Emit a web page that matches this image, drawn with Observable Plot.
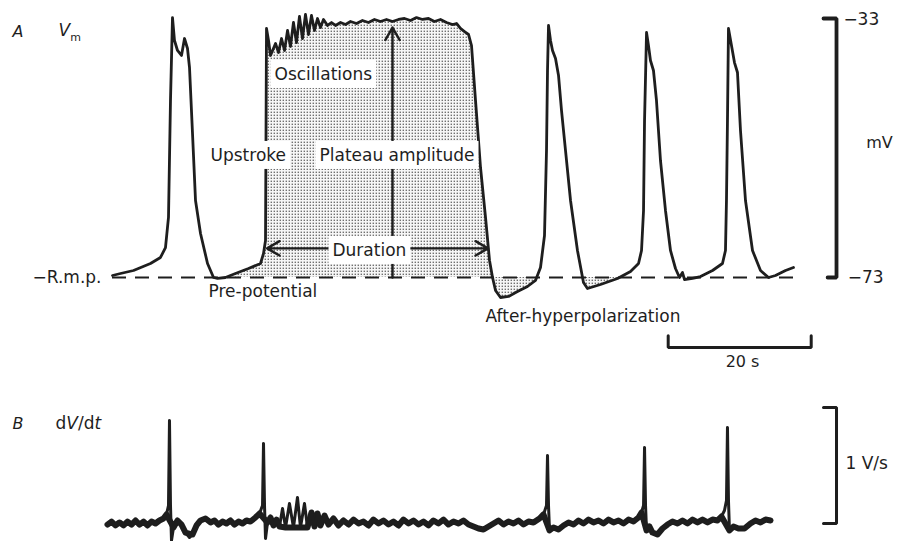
<!DOCTYPE html>
<html><head><meta charset="utf-8">
<script src="https://cdn.jsdelivr.net/npm/d3@7"></script>
<script src="https://cdn.jsdelivr.net/npm/@observablehq/plot@0.6"></script>
<style>
body{margin:0;background:#fff;}
#chart{width:906px;height:541px;overflow:hidden;}
#chart svg{display:block;}
</style></head><body><div id="chart"></div>
<script>
// ---------- Panel A: membrane potential (time in s, Vm in mV) ----------
const timeA = [
0.28,1.40,3.22,5.59,6.99,7.69,8.11,8.39,8.67,8.95,
9.37,9.93,10.35,10.77,11.05,11.47,11.89,12.59,13.57,14.41,
14.97,16.08,17.48,19.30,20.98,21.40,21.68,21.82,22.10,22.38,
23.08,23.50,23.92,24.34,24.76,25.17,25.59,26.01,26.43,26.85,
27.27,27.69,28.11,28.53,28.95,29.37,29.79,30.35,30.91,31.47,
32.17,32.87,33.57,34.41,35.24,36.08,36.92,37.76,38.60,39.44,
40.28,41.12,41.96,42.80,43.64,44.48,45.31,46.15,46.99,47.83,
48.39,48.95,49.51,50.07,50.49,51.05,51.75,52.45,53.01,53.43,
53.85,54.55,55.66,56.92,58.32,59.44,60.14,60.70,60.98,61.12,
61.26,61.54,61.82,62.24,62.66,63.08,63.64,64.34,65.31,66.15,
66.71,68.53,70.91,72.73,73.85,74.27,74.55,74.69,74.97,75.24,
75.52,75.94,76.36,76.92,77.62,78.32,79.02,79.58,80.00,80.28,
81.40,82.52,84.20,85.59,86.01,86.15,86.29,86.43,86.85,87.27,
87.69,88.11,88.81,89.79,90.91,92.03,93.01,94.41,95.52];
const vmA = [
-72.69,-72.38,-71.92,-70.84,-69.91,-68.37,-63.73,-45.66,-32.85,-36.40,
-37.94,-38.71,-36.09,-37.63,-40.57,-50.76,-61.11,-66.20,-70.84,-73.00,
-73.15,-73.00,-72.38,-71.61,-70.84,-69.29,-67.29,-34.54,-36.40,-38.71,
-36.86,-38.25,-36.09,-37.94,-34.85,-37.32,-33.62,-36.71,-32.69,-36.09,
-32.38,-35.47,-32.53,-34.85,-33.00,-34.39,-33.15,-34.08,-33.62,-34.08,
-33.62,-33.93,-33.46,-33.77,-33.31,-33.62,-33.15,-33.46,-33.15,-33.46,
-33.15,-33.00,-33.31,-32.85,-33.15,-33.00,-33.46,-33.15,-33.62,-33.93,
-33.77,-34.54,-35.01,-35.47,-37.17,-45.66,-56.01,-63.73,-70.37,-73.00,
-75.01,-76.09,-75.93,-75.16,-74.39,-73.46,-71.46,-66.51,-53.39,-41.03,
-34.08,-36.40,-37.94,-39.18,-41.80,-47.21,-53.39,-61.11,-68.83,-73.77,
-74.70,-74.08,-73.15,-72.07,-70.84,-68.83,-62.65,-48.75,-35.16,-37.17,
-39.49,-41.03,-45.66,-54.93,-62.65,-68.83,-71.61,-73.00,-72.23,-73.31,
-73.15,-72.85,-71.92,-70.84,-68.83,-61.11,-48.75,-34.54,-37.17,-39.80,
-41.34,-50.30,-61.11,-68.83,-71.92,-73.00,-72.69,-71.92,-71.46];
const restingPotential = -73;           // R.m.p. (mV)
const rmpSpan = [0.28, 96.5];           // extent of dashed R.m.p. line (s)
const shadedPlateau = [17.4, 59.5];     // stippled: pre-potential, plateau, AHP
const shadedAHP2 = [66.1, 71.0];        // stippled second after-hyperpolarization

// ---------- Panel B: dV/dt (V/s) ----------
const timeB = [
-0.42,0.14,0.70,1.26,1.82,2.38,2.94,3.50,4.06,4.62,
5.17,5.73,6.29,6.85,7.41,7.83,8.11,8.25,8.39,8.53,
8.81,9.37,9.93,10.49,11.05,11.47,12.03,12.59,13.29,13.99,
14.55,15.10,15.66,16.22,16.78,17.34,17.90,18.46,19.02,19.58,
20.28,20.84,21.26,21.40,21.54,21.68,21.96,22.38,22.80,23.22,
23.64,24.06,24.48,25.03,25.59,26.15,26.57,27.13,27.55,28.11,
28.53,28.95,29.37,29.93,30.49,31.19,31.89,32.59,33.29,33.99,
34.69,35.38,36.08,36.78,37.48,38.18,38.88,39.58,40.28,40.98,
41.68,42.38,43.08,43.78,44.48,45.17,45.87,46.57,47.27,47.97,
48.67,49.37,50.07,50.77,51.47,52.17,52.87,53.57,54.27,54.97,
55.66,56.36,57.06,57.76,58.46,59.16,60.00,60.56,60.98,61.12,
61.26,61.40,61.96,62.66,63.36,64.06,64.76,65.45,66.15,66.85,
67.55,68.25,68.95,69.65,70.35,71.05,71.75,72.45,73.15,73.85,
74.27,74.55,74.69,74.83,74.97,75.38,75.80,76.50,77.20,77.90,
78.60,79.30,80.00,80.70,81.40,82.10,82.80,83.50,84.20,84.90,
85.45,85.87,86.15,86.29,86.43,86.57,87.13,87.83,88.67,89.51,
90.21,90.91,91.61,92.31];
const dvdtB = [
-0.009,0.017,-0.017,0.009,-0.017,0.017,-0.009,0.026,-0.009,0.017,
-0.017,0.017,0,0.026,0.043,0.078,0.155,0.888,0.155,-0.147,
-0.034,0.026,-0.009,-0.078,-0.121,-0.095,-0.017,0.026,0.043,0.009,
0.026,-0.009,0.017,0,0.026,-0.009,0.017,0,0.026,0.017,
0.052,0.086,0.155,0.690,0.155,-0.129,0.009,0.052,-0.017,0.034,
-0.026,0.129,-0.034,0.172,-0.034,0.224,-0.034,0.172,-0.034,0.095,
-0.026,0.086,-0.017,0.069,-0.009,0.043,-0.017,0.026,-0.009,0.034,
0,0.017,-0.017,0.034,0,0.026,-0.009,0.017,-0.017,0.034,
0,0.026,-0.009,0.017,-0.017,0.026,0,0.034,-0.009,0.017,
0,0.026,-0.009,-0.026,-0.043,-0.052,-0.026,0,0.026,-0.009,
0.017,0,0.026,-0.009,0.017,0.009,0.043,0.078,0.155,0.586,
0.155,-0.060,-0.034,-0.052,-0.017,0.009,-0.009,0.026,0,0.034,
0.009,0.026,0,0.034,0.009,0.026,0,0.034,0.017,0.052,
0.095,0.155,0.655,0.155,-0.060,-0.026,-0.078,-0.095,-0.043,-0.009,
0.017,0,0.026,0,0.034,0.009,0.034,0.009,0.034,0.026,
0.060,0.112,0.198,0.828,0.198,-0.060,-0.026,-0.043,-0.043,0,
0.026,0.009,0.034,0.026];

// ---------- Annotations (data units) ----------
const boxedText = ["Oscillations","Upstroke","Plateau amplitude","Duration"];
const boxedT    = [22.94, 13.99, 29.23, 31.05];
const boxedV    = [-41.65, -54.16, -54.16, -68.83];
const plainText = ["Pre-potential","After-hyperpolarization"];
const plainT    = [13.71, 52.45];
const plainV    = [-75.16, -79.0];
const amplitudeArrow = {t: 39.44, from: -73, to: -34.4};
const durationArrow  = {v: -68.5, from: 21.9, mid: 37.0, to: 52.8};
// scale bars: 40 mV (−73 to −33), 20 s, 1 V/s
const mVBarT = [99.72, 101.54, 101.54, 100.3], mVBarV = [-33, -33, -73, -73];
const sBarT  = [78, 78, 98, 98],               sBarV  = [-82.0, -83.81, -83.81, -82.0];
const vsBarT = [99.72, 101.54, 101.54, 99.72], vsBarV = [1, 1, 0, 0];

const ink = "#1e1e1e";
const font = "DejaVu Sans";
const xOpts = {type: "linear", domain: [0, 100], range: [110, 825], axis: null};

const traceA = timeA.map((t, i) => ({t, v: vmA[i]}));
const traceB = timeB.map((t, i) => ({t, v: dvdtB[i]}));
const noiseB = traceB.filter(d => Math.abs(d.v) < 0.1);
const fill1 = traceA.filter(d => d.t >= shadedPlateau[0] && d.t <= shadedPlateau[1]);
const fill2 = traceA.filter(d => d.t >= shadedAHP2[0] && d.t <= shadedAHP2[1]);
const boxed = boxedText.map((s, i) => ({s, t: boxedT[i], v: boxedV[i]}));
const plain = plainText.map((s, i) => ({s, t: plainT[i], v: plainV[i]}));
const mVBar = mVBarT.map((t, i) => ({t, v: mVBarV[i]}));
const sBar = sBarT.map((t, i) => ({t, v: sBarV[i]}));
const vsBar = vsBarT.map((t, i) => ({t, v: vsBarV[i]}));

const plotA = Plot.plot({
  width: 906, height: 380, margin: 0,
  x: xOpts,
  y: {type: "linear", domain: [-73, -33], range: [277, 18], axis: null},
  style: {fontFamily: font, background: "white", overflow: "visible"},
  marks: [
    Plot.areaY(fill1, {x: "t", y1: () => restingPotential, y2: "v", fill: "url(#stipple)", curve: "linear"}),
    Plot.areaY(fill2, {x: "t", y1: () => restingPotential, y2: "v", fill: "url(#stipple)", curve: "linear"}),
    Plot.ruleY([restingPotential], {x1: rmpSpan[0], x2: rmpSpan[1], stroke: ink, strokeWidth: 2, strokeDasharray: "14,9"}),
    Plot.arrow([amplitudeArrow], {x1: "t", x2: "t", y1: "from", y2: "to", stroke: ink, strokeWidth: 2.4, headLength: 9}),
    Plot.arrow([durationArrow], {x1: "mid", x2: "from", y1: "v", y2: "v", stroke: ink, strokeWidth: 2.4, headLength: 9}),
    Plot.arrow([durationArrow], {x1: "mid", x2: "to", y1: "v", y2: "v", stroke: ink, strokeWidth: 2.4, headLength: 9}),
    Plot.line(traceA, {x: "t", y: "v", stroke: ink, strokeWidth: 2.8, strokeLinejoin: "round", curve: "linear"}),
    Plot.text(boxed, {x: "t", y: "v", text: "s", textAnchor: "start", fontSize: 17, fill: ink}),
    Plot.text(plain, {x: "t", y: "v", text: "s", textAnchor: "start", fontSize: 17, fill: ink}),
    Plot.text(["−R.m.p."], {x: -1.26, y: restingPotential, textAnchor: "end", fontSize: 17, fill: ink}),
    Plot.line(mVBar, {x: "t", y: "v", stroke: ink, strokeWidth: 3.8, strokeLinejoin: "miter"}),
    Plot.text(["−33"], {x: 102.5, y: -33.1, textAnchor: "start", fontSize: 17, fill: ink}),
    Plot.text(["−73"], {x: 103.1, y: -73, textAnchor: "start", fontSize: 17, fill: ink}),
    Plot.text(["mV"], {x: 105.7, y: -52.2, textAnchor: "start", fontSize: 16, fill: ink}),
    Plot.line(sBar, {x: "t", y: "v", stroke: ink, strokeWidth: 3, strokeLinejoin: "miter"}),
    Plot.text(["20 s"], {x: 88.4, y: -86.1, textAnchor: "middle", fontSize: 16, fill: ink}),
    Plot.text(["A"], {x: -13.7, y: -35.0, textAnchor: "start", fontSize: 16, fontStyle: "italic", fill: ink}),
    Plot.text(["Vm"], {x: -7.27, y: -34.85, textAnchor: "start", fontSize: 17, fill: ink})
  ]
});

const plotB = Plot.plot({
  width: 906, height: 161, margin: 0,
  x: xOpts,
  y: {type: "linear", domain: [0, 1], range: [143, 27], axis: null},
  style: {fontFamily: font, background: "white", overflow: "visible"},
  marks: [
    Plot.line(noiseB, {x: "t", y: "v", stroke: ink, strokeWidth: 6, strokeLinejoin: "round", curve: "linear"}),
    Plot.line(traceB, {x: "t", y: "v", stroke: ink, strokeWidth: 3, strokeLinejoin: "round", curve: "linear"}),
    Plot.line(vsBar, {x: "t", y: "v", stroke: ink, strokeWidth: 3, strokeLinejoin: "miter"}),
    Plot.text(["1 V/s"], {x: 102.8, y: 0.517, textAnchor: "start", fontSize: 17, fill: ink}),
    Plot.text(["B"], {x: -13.7, y: 0.862, textAnchor: "start", fontSize: 16, fontStyle: "italic", fill: ink}),
    Plot.text(["dV/dt"], {x: -7.69, y: 0.862, textAnchor: "start", fontSize: 17, fill: ink})
  ]
});

const chart = document.getElementById("chart");
chart.appendChild(plotA);
chart.appendChild(plotB);

// stipple pattern for the shaded areas
const ns = "http://www.w3.org/2000/svg";
const defs = document.createElementNS(ns, "defs");
defs.innerHTML = '<pattern id="stipple" width="3" height="3" patternUnits="userSpaceOnUse">' +
  '<rect width="3" height="3" fill="#f6f6f6"/><rect x="0.6" y="0.6" width="1.4" height="1.4" fill="#707070"/></pattern>';
plotA.insertBefore(defs, plotA.firstChild);

const allText = svg => Array.from(svg.querySelectorAll("text"));

// white boxes behind the in-plot labels
allText(plotA).filter(t => boxedText.includes(t.textContent)).forEach(t => {
  const b = t.getBBox();
  const r = document.createElementNS(ns, "rect");
  r.setAttribute("x", b.x - 4); r.setAttribute("y", b.y - 4);
  r.setAttribute("width", b.width + 8); r.setAttribute("height", b.height + 8);
  r.setAttribute("fill", "white");
  const tr = t.getAttribute("transform"); if (tr) r.setAttribute("transform", tr);
  t.parentNode.insertBefore(r, t);
});

// italic variables and subscript
allText(plotA).filter(t => t.textContent === "Vm").forEach(t => {
  t.innerHTML = '<tspan font-style="italic">V</tspan><tspan font-size="11" dy="5">m</tspan>';
});
allText(plotB).filter(t => t.textContent === "dV/dt").forEach(t => {
  t.innerHTML = 'd<tspan font-style="italic">V</tspan>/d<tspan font-style="italic">t</tspan>';
});
</script>
</body></html>
